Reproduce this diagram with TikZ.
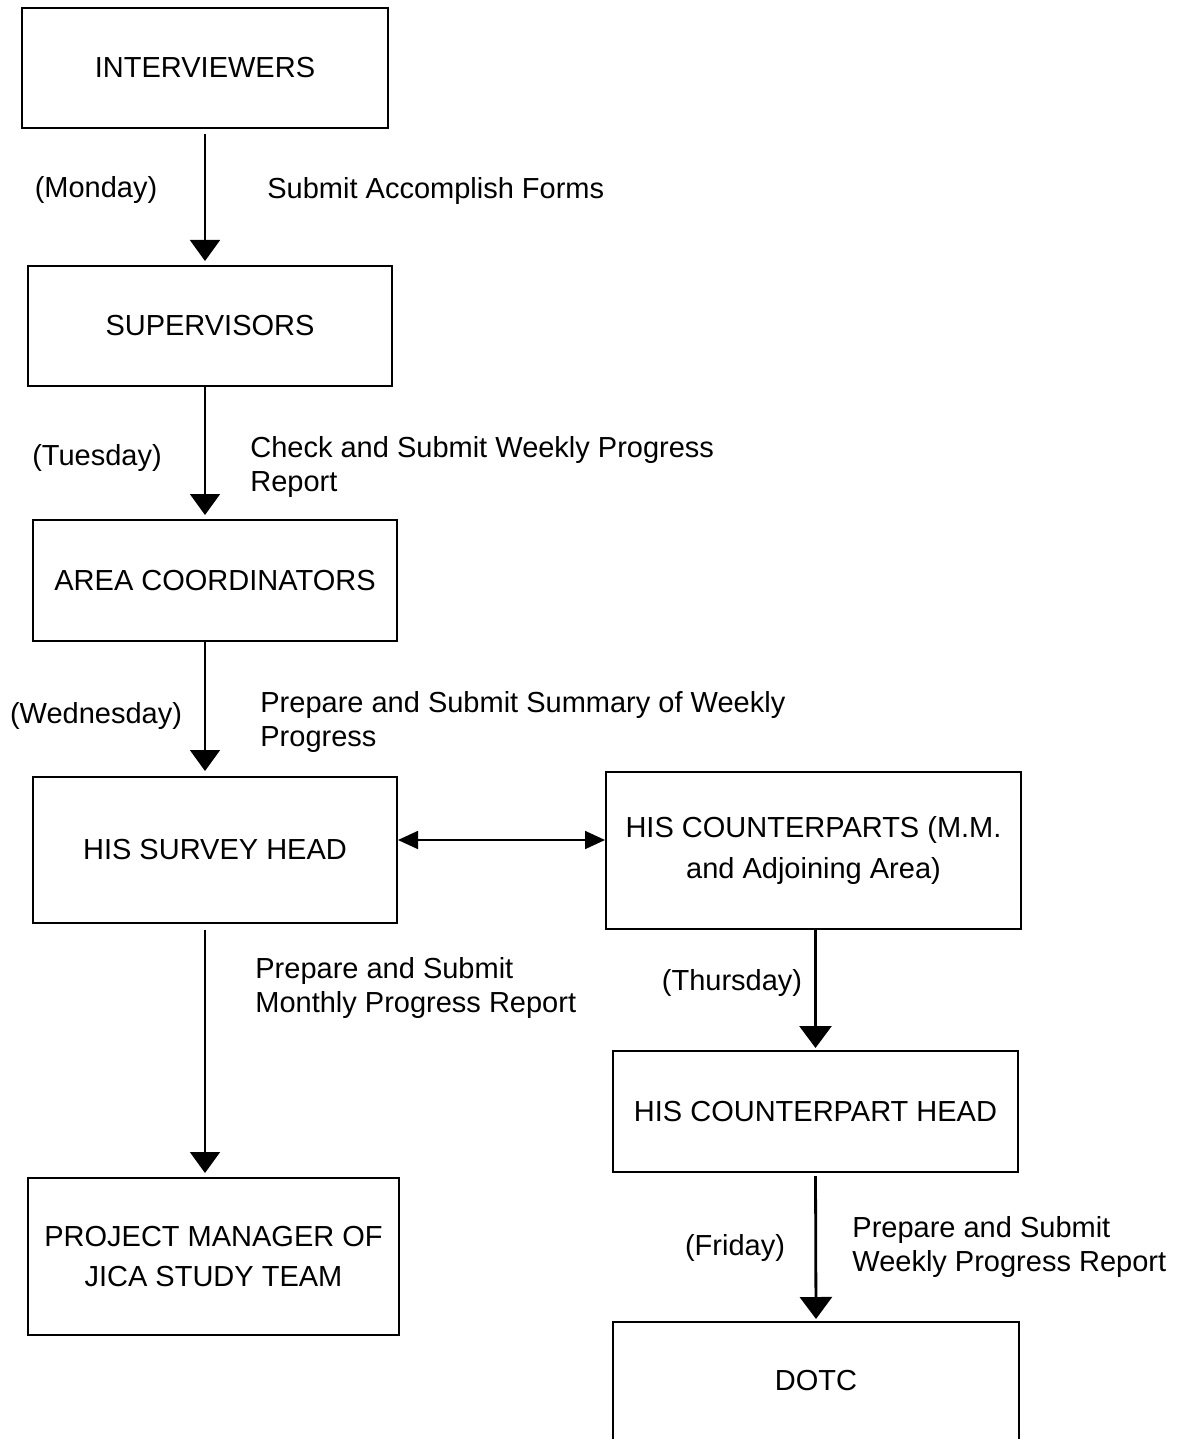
\documentclass[tikz,border=0pt]{standalone}
\usepackage{fontspec}
\setmainfont{Liberation Sans}
\usetikzlibrary{arrows.meta}

\begin{document}
\begin{tikzpicture}[
  x=0.5pt, y=-0.5pt,
  box/.style={draw, line width=1pt, inner sep=0pt, align=center,
    font=\fontsize{14.5}{20.5}\selectfont},
  lbl/.style={inner sep=0pt, align=left, font=\fontsize{14.5}{17}\selectfont},
  arr/.style={-{Triangle[width=15pt, length=10.5pt]}, line width=0.9pt},
  bigarr/.style={-{Triangle[width=16pt, length=11pt]}, line width=1.4pt},
  biarr/.style={{Triangle[width=9pt, length=10pt]}-{Triangle[width=9pt, length=10pt]}, line width=0.9pt}
]
\useasboundingbox (0,0) rectangle (1187,1439);

% boxes, left column
\node[box, minimum width=183pt, minimum height=60pt] (intv) at (205,68) {INTERVIEWERS};
\node[box, minimum width=182pt, minimum height=60pt] (sup) at (210,326) {SUPERVISORS};
\node[box, minimum width=182pt, minimum height=60.5pt] (area) at (215,580.5) {AREA COORDINATORS};
\node[box, minimum width=182pt, minimum height=73pt] (head) at (215,850) {HIS SURVEY HEAD};
\node[box, minimum width=185.5pt, minimum height=78.5pt] (pm) at (213.5,1256.5) {PROJECT MANAGER OF\\JICA STUDY TEAM};

% boxes, right column
\node[box, minimum width=207.5pt, minimum height=78.5pt] (cparts) at (813.5,850.5) {HIS COUNTERPARTS (M.M.\\and Adjoining Area)};
\node[box, minimum width=202.5pt, minimum height=60.5pt] (chead) at (815.5,1111.5) {HIS COUNTERPART HEAD};
\node[box, minimum width=203pt, minimum height=78.5pt] (dotc) at (816,1400.5) {DOTC\\\mbox{}};

% labels
\node[lbl] (mon) at (96,190) {(Monday)};
\node[lbl, anchor=west] (monact) at (267,191) {Submit Accomplish Forms};
\node[lbl] (tue) at (97,458) {(Tuesday)};
\node[lbl, anchor=west] (tueact) at (250,467) {Check and Submit Weekly Progress\\Report};
\node[lbl] (wed) at (96,716) {(Wednesday)};
\node[lbl, anchor=west] (wedact) at (260,722) {Prepare and Submit Summary of Weekly\\Progress};
\node[lbl, anchor=west] (monthact) at (255,988) {Prepare and Submit\\Monthly Progress Report};
\node[lbl] (thu) at (732,983) {(Thursday)};
\node[lbl] (fri) at (735,1248) {(Friday)};
\node[lbl, anchor=west] (friact) at (852,1247) {Prepare and Submit\\Weekly Progress Report};

% connectors
\draw[arr, shorten <=2.5pt, shorten >=2pt] (intv.south) -- (intv.south |- sup.north);
\draw[arr, shorten <=0pt, shorten >=2pt] (intv.south |- sup.south) -- (intv.south |- area.north);
\draw[arr, shorten >=2.5pt] (intv.south |- area.south) -- (intv.south |- head.north);
\draw[arr, shorten <=3pt, shorten >=2pt] (intv.south |- head.south) -- (intv.south |- pm.north);
\draw[biarr] ([yshift=5pt]head.east) -- ([yshift=5pt]head.east -| cparts.west);
\draw[bigarr, shorten >=1pt] (chead.north |- cparts.south) -- (chead.north);
\draw[bigarr, shorten <=1.5pt, shorten >=1pt] (chead.south) -- (dotc.north);
\end{tikzpicture}
\end{document}
